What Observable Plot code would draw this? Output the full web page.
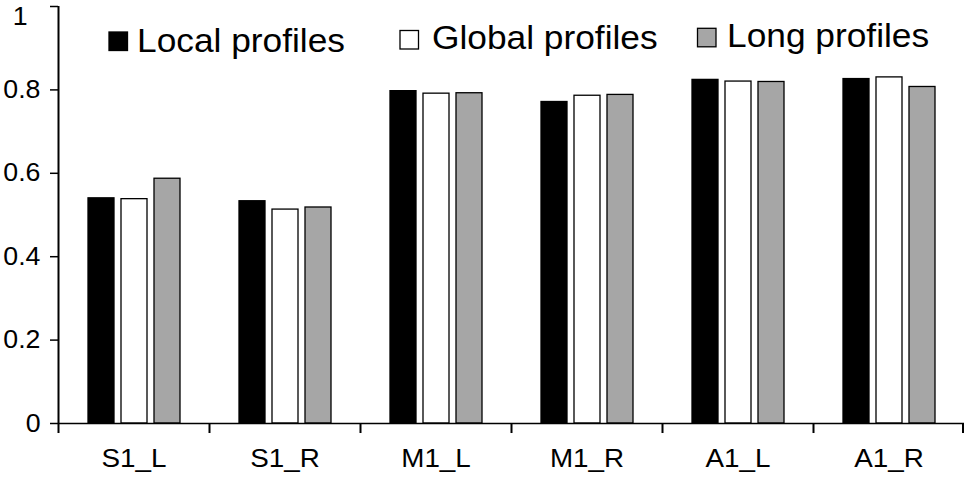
<!DOCTYPE html>
<html>
<head>
<meta charset="utf-8">
<script src="https://cdn.jsdelivr.net/npm/d3@7"></script>
<script src="https://cdn.jsdelivr.net/npm/@observablehq/plot@0.6"></script>
<style>
  html, body { margin: 0; padding: 0; background: #fff; }
  #chart { width: 970px; height: 477px; }
</style>
</head>
<body>
<div id="chart"></div>
<script>
const categories = ["S1_L", "S1_R", "M1_L", "M1_R", "A1_L", "A1_R"];
const series = ["Local profiles", "Global profiles", "Long profiles"];
const localValues  = [0.540, 0.533, 0.797, 0.771, 0.824, 0.826];
const globalValues = [0.538, 0.513, 0.791, 0.786, 0.820, 0.830];
const longValues   = [0.587, 0.518, 0.792, 0.788, 0.819, 0.807];
const yTicks = [0, 0.2, 0.4, 0.6, 0.8, 1];
const colors = ["#000000", "#ffffff", "#a6a6a6"];

const seriesValues = [localValues, globalValues, longValues];
const data = [];
categories.forEach((c, i) => {
  series.forEach((s, j) => data.push({cat: c, series: s, value: seriesValues[j][i]}));
});

const W = 970, H = 477;
const mL = 58, mR = 6, mT = 6, mB = 54;
const fw = (W - mL - mR) / categories.length;
const lw = 1.5;
const yMax = yTicks[yTicks.length - 1];

const svg = Plot.plot({
  width: W,
  height: H,
  marginLeft: mL,
  marginRight: mR,
  marginTop: mT,
  marginBottom: mB,
  style: {fontFamily: "'Liberation Sans', Arial, sans-serif", background: "#fff", color: "#000", overflow: "visible"},
  fx: {domain: categories, padding: 0, axis: null, label: null},
  x: {domain: series, paddingInner: 0.224, paddingOuter: 0.866, axis: null, label: null},
  y: {domain: [0, yMax], axis: null, label: null},
  color: {domain: series, range: colors},
  marks: [
    Plot.barY(data, {fx: "cat", x: "series", y: "value", fill: "series", stroke: "#000", strokeWidth: 1.3}),
    Plot.ruleY([0], {strokeWidth: lw}),
    // y axis line (left edge of first facet)
    Plot.barY(categories.slice(0, 1), {fx: d => d, y1: 0, y2: yMax, fill: "#000", insetRight: fw - lw, insetLeft: -0.5}),
    // category boundary ticks
    Plot.barY(categories, {fx: d => d, y1: 0, y2: -0.024, fill: "#000", insetRight: fw - lw, insetLeft: -0.5}),
    Plot.barY(categories.slice(-1), {fx: d => d, y1: 0, y2: -0.024, fill: "#000", insetLeft: fw - lw - 0.5, insetRight: 0}),
    Plot.axisY({ticks: yTicks.slice(0, -1), tickSize: 8, tickPadding: 10, fontSize: 25, strokeWidth: lw, tickFormat: d3.format(""), label: null}),
    Plot.axisY({ticks: yTicks.slice(-1), tickSize: 8, tickPadding: 10, fontSize: 25, strokeWidth: lw, tickFormat: d3.format(""), label: null}),
    Plot.axisFx({anchor: "bottom", tickSize: 0, tickPadding: 25, fontSize: 26, label: null})
  ]
});

// slight horizontal stretch of axis labels to match the reference typography
const yLabelGroups = svg.querySelectorAll('g[aria-label="y-axis tick label"]');
svg.querySelectorAll('g[aria-label="y-axis tick label"] text, g[aria-label="fx-axis tick label"] text').forEach(t => {
  const tr = t.getAttribute("transform");
  if (tr) t.setAttribute("transform", tr + " scale(1.07,1)");
});
// the top label ("1") sits below-left of its tick, as in the reference
if (yLabelGroups.length > 1) {
  yLabelGroups[yLabelGroups.length - 1].querySelectorAll("text").forEach(t => {
    t.setAttribute("transform", t.getAttribute("transform").replace(/translate\(([^,]+),([^)]+)\)/, (m, a, b) => `translate(${+a - 13},${+b + 10})`));
  });
}

// legend inside the svg
const legendItems = [
  {label: series[0], color: colors[0], sx: 109, sy: 32, tx: 137, ty: 52},
  {label: series[1], color: colors[1], sx: 400, sy: 30.5, tx: 432, ty: 49.3},
  {label: series[2], color: colors[2], sx: 697.5, sy: 28.3, tx: 727, ty: 46.7}
];
const lg = d3.select(svg).append("g").attr("class", "legend").attr("text-anchor", "start");
legendItems.forEach(it => {
  lg.append("rect").attr("x", it.sx).attr("y", it.sy).attr("width", 18.5).attr("height", 18.5)
    .attr("fill", it.color).attr("stroke", "#000").attr("stroke-width", 1.3);
  lg.append("text").attr("transform", `translate(${it.tx},${it.ty}) scale(1.07,1)`)
    .attr("font-size", 33).attr("fill", "#000").attr("text-anchor", "start")
    .attr("font-family", "'Liberation Sans', Arial, sans-serif")
    .text(it.label);
});

document.getElementById("chart").appendChild(svg);
</script>
</body>
</html>
